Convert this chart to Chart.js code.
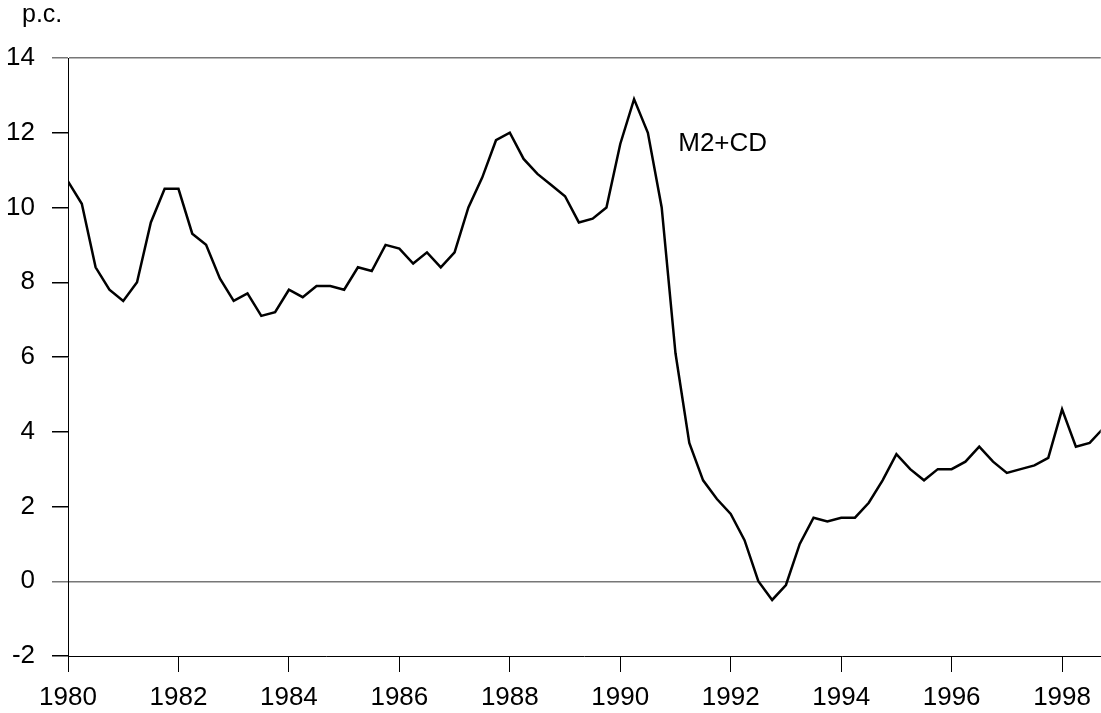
<!DOCTYPE html>
<html>
<head>
<meta charset="utf-8">
<script src="https://cdn.jsdelivr.net/npm/chart.js@4/dist/chart.umd.min.js"></script>
<style>
    html, body { margin: 0; padding: 0; background: #fff; }
    #wrap { width: 1101px; height: 713px; position: relative; }
</style>
</head>
<body>
<div id="wrap"><canvas id="m2Chart"></canvas></div>
<script>
// quarterly growth of M2+CD, first value is 1980 Q1
const startYear = 1980;
const m2cd = [
    10.7, 10.1, 8.4, 7.8,
    7.5, 8.0, 9.6, 10.5,
    10.5, 9.3, 9.0, 8.1,
    7.5, 7.7, 7.1, 7.2,
    7.8, 7.6, 7.9, 7.9,
    7.8, 8.4, 8.3, 9.0,
    8.9, 8.5, 8.8, 8.4,
    8.8, 10.0, 10.8, 11.8,
    12.0, 11.3, 10.9, 10.6,
    10.3, 9.6, 9.7, 10.0,
    11.7, 12.9, 12.0, 10.0,
    6.1, 3.7, 2.7, 2.2,
    1.8, 1.1, 0.0, -0.5,
    -0.1, 1.0, 1.7, 1.6,
    1.7, 1.7, 2.1, 2.7,
    3.4, 3.0, 2.7, 3.0,
    3.0, 3.2, 3.6, 3.2,
    2.9, 3.0, 3.1, 3.3,
    4.6, 3.6, 3.7, 4.1
];
const yearTicks = [1980, 1982, 1984, 1986, 1988, 1990, 1992, 1994, 1996, 1998];
const valueTicks = [-2, 0, 2, 4, 6, 8, 10, 12, 14];
const unitLabel = 'p.c.';
const seriesLabel = 'M2+CD';

const points = m2cd.map((v, i) => ({ x: startYear + i / 4, y: v }));

Chart.defaults.font.family = '"Liberation Sans", Arial, sans-serif';
Chart.defaults.color = '#000';

const textPlugin = {
    id: 'chartText',
    afterDraw(chart) {
        const ctx = chart.ctx;
        const xs = chart.scales.x;
        const ys = chart.scales.y;
        ctx.save();
        ctx.fillStyle = '#000';
        ctx.textAlign = 'left';
        ctx.textBaseline = 'alphabetic';
        ctx.font = '25px "Liberation Sans", Arial, sans-serif';
        ctx.fillText(unitLabel, 22, 22);
        ctx.font = '26px "Liberation Sans", Arial, sans-serif';
        ctx.fillText(seriesLabel, xs.getPixelForValue(1991.05), ys.getPixelForValue(11.5));
        ctx.restore();
    }
};

const gridGray = '#777';

new Chart(document.getElementById('m2Chart'), {
    type: 'line',
    data: {
        datasets: [{
            label: seriesLabel,
            data: points,
            borderColor: '#000',
            borderWidth: 2.5,
            pointRadius: 0,
            tension: 0,
            fill: false
        }]
    },
    options: {
        responsive: true,
        maintainAspectRatio: false,
        animation: false,
        layout: { padding: { top: 58, right: 0, left: 0, bottom: 0 } },
        plugins: {
            legend: { display: false },
            tooltip: { enabled: false }
        },
        scales: {
            x: {
                type: 'linear',
                min: 1980,
                max: 1998.7,
                afterBuildTicks: scale => {
                    scale.ticks = yearTicks.map(v => ({ value: v }));
                },
                afterFit: scale => { scale.height = 57; },
                border: { display: true, color: '#000', width: 1 },
                grid: {
                    display: true,
                    drawOnChartArea: false,
                    tickLength: 16,
                    tickColor: '#000'
                },
                ticks: {
                    font: { size: 26 },
                    padding: 10,
                    maxRotation: 0,
                    autoSkip: false,
                    callback: v => String(v)
                }
            },
            y: {
                min: -2,
                max: 14,
                afterBuildTicks: scale => {
                    scale.ticks = valueTicks.map(v => ({ value: v }));
                },
                afterFit: scale => { scale.width = 68; },
                border: { display: true, color: '#000', width: 1 },
                grid: {
                    display: true,
                    drawOnChartArea: true,
                    tickLength: 16,
                    lineWidth: 1.5,
                    color: c => (c.tick && (c.tick.value === 0 || c.tick.value === 14)) ? gridGray : 'rgba(0,0,0,0)',
                    tickColor: c => (c.tick && (c.tick.value === 0 || c.tick.value === 14)) ? gridGray : '#000'
                },
                ticks: {
                    font: { size: 26 },
                    padding: 17,
                    autoSkip: false,
                    callback: v => String(v)
                }
            }
        }
    },
    plugins: [textPlugin]
});
</script>
</body>
</html>
